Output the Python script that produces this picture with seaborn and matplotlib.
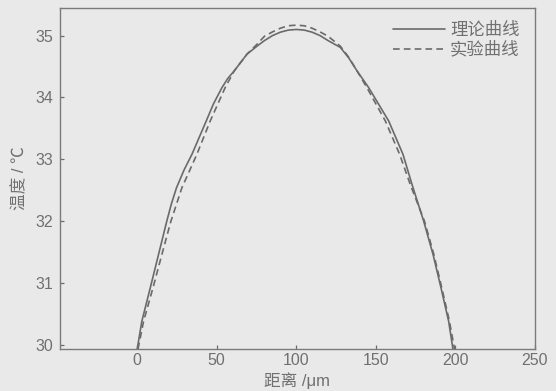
import pandas as pd
import matplotlib
matplotlib.use('Agg')
import matplotlib.pyplot as plt
import seaborn as sns

# distance (um) and temperature (C)
theory_x = [0, 2.9, 8.2, 13.4, 18.6, 21.5, 24.7, 29.5, 34.4, 43.4, 48, 53.3, 57, 61, 69, 75.3, 80, 85, 90, 95,
            100, 105, 110, 115, 120, 127.7, 133, 138.2, 145.5, 158.1, 167.1, 172.8, 180.1, 186, 191,
            195.8, 198.5]
theory_t = [29.93, 30.38, 30.92, 31.46, 32.0, 32.28, 32.54, 32.83, 33.08, 33.62, 33.9, 34.16, 34.31, 34.43,
            34.70, 34.83, 34.92, 35.0, 35.056, 35.09, 35.10, 35.09, 35.056, 35.0, 34.92, 34.81, 34.64, 34.43,
            34.16, 33.62, 33.08, 32.59, 32.0, 31.46, 30.92, 30.38, 29.93]

exp_x = [0.5, 4.0, 9.9, 15.5, 21.2, 28.1, 37.5, 45.9, 55.3, 61, 69, 75.3, 80, 85, 90, 95, 100,
         105, 110, 115, 120, 127.7, 133, 138.2, 144.4, 156, 165, 171.7, 180.6, 186.5, 191.5, 196.3, 199.5]
exp_t = [29.93, 30.38, 30.92, 31.46, 32.0, 32.54, 33.08, 33.62, 34.16, 34.43, 34.70, 34.86, 34.99, 35.06,
         35.12, 35.16, 35.17, 35.16, 35.12, 35.06, 34.99, 34.83, 34.65, 34.43, 34.16, 33.62, 33.08, 32.59,
         32.0, 31.46, 30.92, 30.38, 29.93]

labels = ['理论曲线', '实验曲线']
x_ticks = [0, 50, 100, 150, 200, 250]
y_ticks = [30, 31, 32, 33, 34, 35]

bg = '#e9e9e9'
ink = '#6a6a6a'
txt = '#707070'

sns.set_theme(style='white')
plt.rcParams['font.family'] = ['Liberation Sans', 'Noto Sans CJK SC']
plt.rcParams['axes.unicode_minus'] = False

fig = plt.figure(figsize=(5.56, 3.91), dpi=100, facecolor=bg)
ax = fig.add_axes([0.108, 0.107, 0.854, 0.873], facecolor=bg)

df1 = pd.DataFrame({'x': theory_x, 't': theory_t})
df2 = pd.DataFrame({'x': exp_x, 't': exp_t})
sns.lineplot(data=df1, x='x', y='t', ax=ax, sort=False, estimator=None,
             color=ink, lw=1.2, label=labels[0])
sns.lineplot(data=df2, x='x', y='t', ax=ax, sort=False, estimator=None,
             color=ink, lw=1.2, label=labels[1])
ax.lines[1].set_dashes((4, 2.5))

ax.set_xlim(-48.5, 250)
ax.set_ylim(29.93, 35.45)
ax.set_xticks(x_ticks)
ax.set_yticks(y_ticks)
ax.tick_params(direction='in', length=3, width=0.9, colors=ink, labelcolor=txt,
               labelsize=11.5, top=False, right=False, bottom=True, left=True)
ax.tick_params(axis='y', pad=5)
ax.tick_params(axis='x', pad=3)
for s in ax.spines.values():
    s.set_color('#7a7a7a')
    s.set_linewidth(1.0)

ax.set_xlabel('距离 /μm', fontsize=12, color=txt, labelpad=3)
ax.set_ylabel('温度 / ℃', fontsize=12, color=txt, labelpad=6)

leg = ax.legend(loc='upper right', bbox_to_anchor=(0.968, 0.96), frameon=False,
                fontsize=12.5, handlelength=3.0, handletextpad=0.3,
                labelspacing=0.2, borderpad=0, borderaxespad=0)
leg.get_lines()[1].set_dashes((4, 2.5))
for t in leg.get_texts():
    t.set_color(txt)

fig.savefig('out.png', dpi=100, facecolor=bg)
